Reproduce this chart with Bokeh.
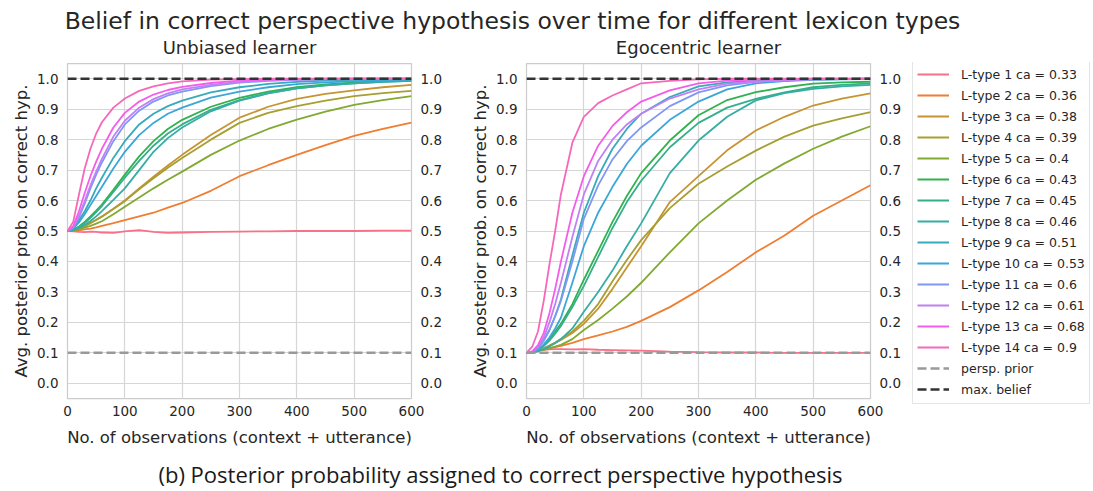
import math
import numpy as np
from bokeh.plotting import figure
from bokeh.layouts import column, row
from bokeh.models import (LinearAxis, FixedTicker, PrintfTickFormatter, Legend,
                          LegendItem, Range1d)
from bokeh.embed import file_html
from bokeh.resources import INLINE
from bokeh.core.properties import value

# ---------------- data ----------------
OBS = [0, 10, 20, 30, 40, 50, 60, 80, 100, 125, 150, 175, 200, 250, 300, 350, 400, 450, 500, 550, 600]
CA = ["0.33", "0.36", "0.38", "0.39", "0.4", "0.43", "0.45", "0.46", "0.51", "0.53", "0.6", "0.61", "0.68", "0.9"]
X_TICKS = [0, 100, 200, 300, 400, 500, 600]
Y_TICKS = [0.0, 0.1, 0.2, 0.3, 0.4, 0.5, 0.6, 0.7, 0.8, 0.9, 1.0]
PERSP_PRIOR = 0.1
MAX_BELIEF = 1.0

unb_1 = [0.5, 0.499, 0.497, 0.496, 0.498, 0.497, 0.495, 0.494, 0.499, 0.503, 0.497, 0.494, 0.495, 0.497, 0.498, 0.499, 0.5, 0.5, 0.5, 0.501, 0.501]
unb_2 = [0.5, 0.5, 0.502, 0.505, 0.508, 0.512, 0.517, 0.526, 0.536, 0.548, 0.56, 0.577, 0.592, 0.632, 0.68, 0.716, 0.75, 0.782, 0.812, 0.835, 0.856]
unb_3 = [0.5, 0.503, 0.509, 0.517, 0.526, 0.537, 0.548, 0.573, 0.600, 0.640, 0.678, 0.715, 0.750, 0.815, 0.872, 0.908, 0.934, 0.950, 0.962, 0.972, 0.980]
unb_4 = [0.5, 0.503, 0.509, 0.517, 0.526, 0.536, 0.547, 0.572, 0.598, 0.637, 0.673, 0.708, 0.740, 0.800, 0.855, 0.888, 0.910, 0.928, 0.943, 0.953, 0.960]
unb_5 = [0.5, 0.502, 0.506, 0.511, 0.517, 0.524, 0.532, 0.555, 0.580, 0.610, 0.640, 0.668, 0.695, 0.750, 0.797, 0.835, 0.866, 0.892, 0.914, 0.930, 0.943]
unb_6 = [0.5, 0.505, 0.515, 0.530, 0.548, 0.567, 0.587, 0.635, 0.685, 0.745, 0.795, 0.835, 0.865, 0.908, 0.937, 0.958, 0.972, 0.981, 0.988, 0.992, 0.995]
unb_7 = [0.5, 0.504, 0.513, 0.526, 0.543, 0.562, 0.582, 0.628, 0.675, 0.730, 0.780, 0.820, 0.850, 0.898, 0.930, 0.953, 0.968, 0.978, 0.985, 0.990, 0.993]
unb_8 = [0.5, 0.503, 0.510, 0.520, 0.533, 0.548, 0.565, 0.602, 0.640, 0.700, 0.760, 0.805, 0.840, 0.893, 0.928, 0.952, 0.968, 0.978, 0.985, 0.990, 0.993]
unb_9 = [0.5, 0.510, 0.535, 0.565, 0.600, 0.640, 0.675, 0.740, 0.795, 0.850, 0.885, 0.910, 0.928, 0.955, 0.972, 0.983, 0.990, 0.994, 0.996, 0.998, 0.999]
unb_10 = [0.5, 0.508, 0.528, 0.555, 0.585, 0.615, 0.645, 0.705, 0.760, 0.815, 0.855, 0.885, 0.905, 0.938, 0.958, 0.972, 0.982, 0.988, 0.992, 0.995, 0.997]
unb_11 = [0.5, 0.512, 0.545, 0.590, 0.640, 0.685, 0.725, 0.795, 0.850, 0.895, 0.925, 0.945, 0.958, 0.976, 0.987, 0.993, 0.996, 0.998, 0.999, 1.0, 1.0]
unb_12 = [0.5, 0.513, 0.550, 0.598, 0.650, 0.695, 0.737, 0.810, 0.862, 0.905, 0.933, 0.952, 0.965, 0.980, 0.990, 0.995, 0.997, 0.999, 1.0, 1.0, 1.0]
unb_13 = [0.5, 0.516, 0.565, 0.625, 0.680, 0.728, 0.770, 0.840, 0.888, 0.925, 0.948, 0.963, 0.973, 0.986, 0.994, 0.997, 0.999, 1.0, 1.0, 1.0, 1.0]
unb_14 = [0.5, 0.530, 0.620, 0.705, 0.770, 0.820, 0.857, 0.905, 0.935, 0.960, 0.975, 0.985, 0.991, 0.997, 0.999, 1.0, 1.0, 1.0, 1.0, 1.0, 1.0]

ego_1 = [0.1, 0.104, 0.108, 0.110, 0.111, 0.112, 0.112, 0.111, 0.112, 0.110, 0.109, 0.108, 0.107, 0.104, 0.102, 0.101, 0.101, 0.100, 0.100, 0.100, 0.100]
ego_2 = [0.1, 0.103, 0.107, 0.111, 0.115, 0.119, 0.123, 0.133, 0.145, 0.157, 0.170, 0.185, 0.205, 0.250, 0.305, 0.365, 0.430, 0.485, 0.550, 0.600, 0.650]
ego_3 = [0.1, 0.103, 0.108, 0.115, 0.123, 0.132, 0.142, 0.165, 0.195, 0.245, 0.310, 0.380, 0.450, 0.595, 0.680, 0.765, 0.830, 0.875, 0.912, 0.935, 0.952]
ego_4 = [0.1, 0.103, 0.108, 0.115, 0.124, 0.134, 0.145, 0.170, 0.205, 0.260, 0.335, 0.405, 0.470, 0.575, 0.655, 0.712, 0.764, 0.810, 0.846, 0.870, 0.890]
ego_5 = [0.1, 0.102, 0.106, 0.110, 0.115, 0.120, 0.126, 0.145, 0.175, 0.208, 0.245, 0.285, 0.330, 0.430, 0.525, 0.600, 0.668, 0.722, 0.770, 0.810, 0.844]
ego_6 = [0.1, 0.102, 0.110, 0.125, 0.145, 0.170, 0.195, 0.260, 0.340, 0.435, 0.530, 0.615, 0.690, 0.797, 0.880, 0.930, 0.956, 0.972, 0.984, 0.988, 0.990]
ego_7 = [0.1, 0.102, 0.109, 0.122, 0.140, 0.163, 0.188, 0.250, 0.320, 0.415, 0.510, 0.595, 0.665, 0.775, 0.855, 0.905, 0.934, 0.955, 0.972, 0.980, 0.985]
ego_8 = [0.1, 0.101, 0.105, 0.112, 0.121, 0.132, 0.145, 0.180, 0.235, 0.300, 0.370, 0.450, 0.525, 0.690, 0.797, 0.875, 0.929, 0.953, 0.967, 0.975, 0.980]
ego_9 = [0.1, 0.103, 0.115, 0.140, 0.175, 0.220, 0.275, 0.420, 0.560, 0.680, 0.770, 0.835, 0.885, 0.940, 0.975, 0.988, 0.994, 0.997, 0.998, 0.999, 1.0]
ego_10 = [0.1, 0.102, 0.110, 0.127, 0.150, 0.180, 0.215, 0.330, 0.450, 0.560, 0.645, 0.720, 0.780, 0.865, 0.925, 0.965, 0.985, 0.992, 0.996, 0.998, 0.999]
ego_11 = [0.1, 0.103, 0.115, 0.140, 0.175, 0.220, 0.270, 0.400, 0.540, 0.650, 0.735, 0.795, 0.840, 0.910, 0.955, 0.978, 0.990, 0.995, 0.998, 0.999, 1.0]
ego_12 = [0.1, 0.104, 0.120, 0.150, 0.200, 0.260, 0.330, 0.480, 0.620, 0.730, 0.800, 0.850, 0.885, 0.935, 0.965, 0.984, 0.990, 0.995, 0.998, 0.999, 1.0]
ego_13 = [0.1, 0.105, 0.125, 0.165, 0.230, 0.310, 0.400, 0.560, 0.680, 0.780, 0.845, 0.890, 0.925, 0.962, 0.985, 0.994, 0.997, 0.999, 1.0, 1.0, 1.0]
ego_14 = [0.1, 0.120, 0.170, 0.270, 0.390, 0.500, 0.620, 0.790, 0.875, 0.920, 0.945, 0.965, 0.985, 0.993, 0.998, 1.0, 1.0, 1.0, 1.0, 1.0, 1.0]

UNBIASED = [unb_1, unb_2, unb_3, unb_4, unb_5, unb_6, unb_7, unb_8, unb_9, unb_10, unb_11, unb_12, unb_13, unb_14]
EGOCENTRIC = [ego_1, ego_2, ego_3, ego_4, ego_5, ego_6, ego_7, ego_8, ego_9, ego_10, ego_11, ego_12, ego_13, ego_14]

TITLE = "Belief in correct perspective hypothesis over time for different lexicon types"
SUBTITLES = ["Unbiased learner", "Egocentric learner"]
X_LABEL = "No. of observations (context + utterance)"
Y_LABEL = "Avg. posterior prob. on correct hyp."
CAPTION = "(b) Posterior probability assigned to correct perspective hypothesis"
LEGEND_LABELS = ["L-type %d ca = %s" % (i + 1, c) for i, c in enumerate(CA)] + ["persp. prior", "max. belief"]


# ---------------- husl palette (as in seaborn) ----------------
_M = [[3.2406, -1.5372, -0.4986], [-0.9689, 1.8758, 0.0415], [0.0557, -0.2040, 1.0570]]
_refU, _refV, _lab_e, _lab_k = 0.19784, 0.46834, 0.008856, 903.3


def _max_chroma(L, H):
    hrad = math.radians(H)
    sinH, cosH = math.sin(hrad), math.cos(hrad)
    sub1 = ((L + 16.0) ** 3.0) / 1560896.0
    sub2 = sub1 if sub1 > _lab_e else L / _lab_k
    result = float("inf")
    for m1, m2, m3 in _M:
        top = (0.99915 * m1 + 1.05122 * m2 + 1.14460 * m3) * sub2
        rbottom = 0.86330 * m3 - 0.17266 * m2
        lbottom = 0.12949 * m3 - 0.38848 * m1
        bottom = (rbottom * sinH + lbottom * cosH) * sub2
        for t in (0.0, 1.0):
            C = L * (top - 1.05122 * t) / (bottom + 0.17266 * sinH * t)
            if 0.0 < C < result:
                result = C
    return result


def _husl_to_hex(H, S, L):
    C = _max_chroma(L, H) / 100.0 * S
    hrad = math.radians(H)
    U, V = math.cos(hrad) * C, math.sin(hrad) * C
    Y = ((L + 16.0) / 116.0) ** 3 if L > 8 else L / _lab_k
    varU = U / (13.0 * L) + _refU
    varV = V / (13.0 * L) + _refV
    X = 0 - (9 * Y * varU) / ((varU - 4.0) * varV - varU * varV)
    Z = (9 * Y - 15 * varV * Y - varV * X) / (3 * varV)
    out = []
    for r in _M:
        c = r[0] * X + r[1] * Y + r[2] * Z
        c = 12.92 * c if c <= 0.0031308 else 1.055 * c ** (1 / 2.4) - 0.055
        out.append(int(round(min(max(c, 0.0), 1.0) * 255)))
    return "#%02x%02x%02x" % tuple(out)


def husl_palette(n, h=0.01, s=0.9, l=0.65):
    hues = (np.linspace(0, 1, n + 1)[:-1] + h) % 1 * 359
    return [_husl_to_hex(hh, s * 99, l * 99) for hh in hues]


COLORS = husl_palette(len(CA))
PRIOR_COLOR = "#999999"
MAX_COLOR = "#333333"
DASH = "9 4"

FONT = "DejaVu Sans"
TXT = "#262626"
GRID = "#d6d6d6"

TOP_H = 62
FRAME_W = 344
FRAME_H = 335
ROW_H = 390
BORDER_TOP = 1
W1 = 460
W2 = 445
W3 = 1093 - W1 - W2
P2_LEFT = 66


def style_axis(ax, is_y):
    ax.axis_line_color = None
    ax.major_tick_line_color = None
    ax.minor_tick_line_color = None
    ax.major_tick_out = 0
    ax.major_tick_in = 0
    ax.minor_tick_out = 0
    ax.minor_tick_in = 0
    ax.major_label_text_font = FONT
    ax.major_label_text_font_size = "13.5px"
    ax.major_label_text_color = TXT
    ax.major_label_standoff = 9 if is_y else 7
    ax.axis_label_text_font = FONT
    ax.axis_label_text_font_size = "16.5px"
    ax.axis_label_text_font_style = "normal"
    ax.axis_label_text_color = TXT
    ax.axis_label_standoff = 3 if is_y else 9


def make_panel(series, width, left, right):
    p = figure(width=width, height=ROW_H, output_backend="svg", toolbar_location=None,
               x_range=Range1d(0, 600), y_range=Range1d(-0.05, 1.05),
               min_border_left=left, min_border_right=right,
               min_border_top=BORDER_TOP, min_border_bottom=ROW_H - BORDER_TOP - FRAME_H,
               x_axis_label=X_LABEL, y_axis_label=Y_LABEL)
    p.xaxis.ticker = FixedTicker(ticks=X_TICKS)
    p.yaxis.ticker = FixedTicker(ticks=Y_TICKS)
    p.yaxis.formatter = PrintfTickFormatter(format="%.1f")
    for ax in p.xaxis:
        style_axis(ax, False)
    for ax in p.yaxis:
        style_axis(ax, True)
    rax = LinearAxis(ticker=FixedTicker(ticks=Y_TICKS), formatter=PrintfTickFormatter(format="%.1f"))
    style_axis(rax, True)
    p.add_layout(rax, "right")
    p.xgrid.ticker = FixedTicker(ticks=X_TICKS)
    p.ygrid.ticker = FixedTicker(ticks=Y_TICKS)
    p.grid.grid_line_color = GRID
    p.grid.grid_line_width = 1.2
    p.outline_line_color = "#cccccc"
    p.outline_line_width = 1.25
    p.background_fill_color = "white"
    p.border_fill_color = "white"
    for ys, col in zip(series, COLORS):
        p.line(OBS, ys, line_color=col, line_width=1.8)
    p.line([OBS[0], OBS[-1]], [PERSP_PRIOR, PERSP_PRIOR], line_color=PRIOR_COLOR,
           line_width=2.5, line_dash=DASH)
    p.line([OBS[0], OBS[-1]], [MAX_BELIEF, MAX_BELIEF], line_color=MAX_COLOR,
           line_width=2.5, line_dash=DASH)
    return p


p1 = make_panel(UNBIASED, W1, 67, W1 - 67 - FRAME_W)
p2 = make_panel(EGOCENTRIC, W2, P2_LEFT, W2 - P2_LEFT - FRAME_W)

# ---------------- legend (own strip at the right) ----------------
pl = figure(width=W3, height=ROW_H, output_backend="svg", toolbar_location=None,
            x_range=Range1d(0, 600), y_range=Range1d(-0.05, 1.05),
            x_axis_type=None, y_axis_type=None, min_border=0)
pl.frame_align = False
pl.outline_line_color = None
pl.grid.visible = False
proxies = []
for ys, col in zip(EGOCENTRIC, COLORS):
    proxies.append(pl.line(OBS, ys, line_color=col, line_width=2, visible=False))
proxies.append(pl.line([OBS[0], OBS[-1]], [PERSP_PRIOR, PERSP_PRIOR], line_color=PRIOR_COLOR,
                       line_width=2.5, line_dash=DASH, visible=False))
proxies.append(pl.line([OBS[0], OBS[-1]], [MAX_BELIEF, MAX_BELIEF], line_color=MAX_COLOR,
                       line_width=2.5, line_dash=DASH, visible=False))
items = [LegendItem(label=lab, renderers=[r]) for lab, r in zip(LEGEND_LABELS, proxies)]
legend = Legend(items=items, location=(912 - (W1 + W2), ROW_H - (404 - TOP_H)), margin=0,
                padding=4, spacing=1, glyph_width=32, glyph_height=20, label_height=20,
                label_standoff=12, label_text_font=FONT, label_text_font_size="12.5px",
                label_text_color=TXT, border_line_color="#cccccc", border_line_width=1,
                background_fill_color="white", background_fill_alpha=1.0)
pl.add_layout(legend)


# ---------------- titles and caption ----------------
def text_strip(height):
    f = figure(width=1093, height=height, output_backend="svg", toolbar_location=None,
               x_range=Range1d(0, 1093), y_range=Range1d(0, height),
               x_axis_type=None, y_axis_type=None, min_border=0)
    f.outline_line_color = None
    f.grid.visible = False
    return f


top = text_strip(TOP_H)
top.text(x=[512], y=[TOP_H - 20], text=[TITLE], text_font=value(FONT), text_font_size="23.5px",
         text_align="center", text_baseline="middle", text_color=TXT)
top.text(x=[239, 698], y=[TOP_H - 47, TOP_H - 47], text=SUBTITLES, text_font=value(FONT),
         text_font_size="18px", text_align="center", text_baseline="middle", text_color=TXT)

CAP_H = 491 - TOP_H - ROW_H
bottom = text_strip(CAP_H)
bottom.text(x=[500], y=[CAP_H - 21], text=[CAPTION], text_font=value("Open Sans"), text_font_size="22px",
            text_align="center", text_baseline="middle", text_color="#1a1a1a")

layout = column(top, row(p1, p2, pl), bottom, spacing=0)
open("out.html", "w").write(file_html(layout, INLINE))
